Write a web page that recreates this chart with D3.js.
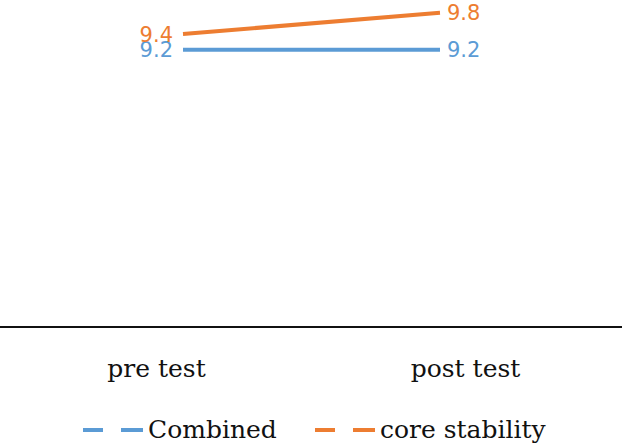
<!DOCTYPE html>
<html>
<head>
<meta charset="utf-8">
<script src="https://cdn.jsdelivr.net/npm/d3@7"></script>
<style>
  body { margin: 0; background: #fff; }
  svg { display: block; }
</style>
</head>
<body>
<div id="chart"></div>
<script>
// chart data
const categories = ["pre test", "post test"];
const seriesNames = ["Combined", "core stability"];
const combinedValues = [9.2, 9.2];
const coreValues = [9.44, 9.76];
const colors = ["#5b9bd5", "#ed7d31"];

const width = 622, height = 448;
const axisY = 327;

const svg = d3.select("#chart").append("svg")
    .attr("width", width)
    .attr("height", height);

// y scale: plot area extends a bit above the visible top
const yscale = d3.scaleLinear().domain([5, 10]).range([axisY, axisY - 5 * 66]);
// points for the lines
const xscale = d3.scalePoint().domain(categories).range([183, 440]);
// category label positions
const xband = d3.scaleBand().domain(categories).range([2, 620]);

// horizontal category axis line
svg.append("line")
    .attr("x1", 0).attr("x2", width)
    .attr("y1", axisY).attr("y2", axisY)
    .attr("stroke", "#111")
    .attr("stroke-width", 2);

const xaxis = d3.axisBottom(xband).tickSize(0).tickPadding(0);
const g_xaxis = svg.append("g")
    .attr("transform", `translate(0,${axisY})`)
    .call(xaxis);
g_xaxis.select(".domain").remove();
g_xaxis.selectAll("text")
    .attr("dy", null)
    .attr("y", 50)
    .attr("font-family", "DejaVu Serif, serif")
    .attr("font-size", 25)
    .attr("fill", "#111");

const series = [
  { name: seriesNames[0], values: combinedValues, color: colors[0] },
  { name: seriesNames[1], values: coreValues, color: colors[1] }
];

const line = d3.line()
    .x((d, i) => xscale(categories[i]))
    .y(d => yscale(d));

svg.selectAll("path.series")
    .data(series)
    .join("path")
    .attr("class", "series")
    .attr("d", d => line(d.values))
    .attr("fill", "none")
    .attr("stroke", d => d.color)
    .attr("stroke-width", 4);

// data labels: first point labelled on the left, last on the right
series.forEach(s => {
  svg.selectAll(null)
      .data(s.values)
      .join("text")
      .attr("x", (d, i) => xscale(categories[i]) + (i === 0 ? -10 : 7))
      .attr("y", d => yscale(d))
      .attr("dy", "0.36em")
      .attr("text-anchor", (d, i) => i === 0 ? "end" : "start")
      .attr("font-family", "DejaVu Sans, sans-serif")
      .attr("font-size", 21)
      .attr("fill", s.color)
      .text(d => d.toFixed(1));
});

// legend
const legendX = [83, 315];
const legend = svg.selectAll("g.legend")
    .data(series)
    .join("g")
    .attr("class", "legend")
    .attr("transform", (d, i) => `translate(${legendX[i]},430)`);

legend.selectAll("line")
    .data(d => [[0, 20, d.color], [38, 60, d.color]])
    .join("line")
    .attr("x1", d => d[0]).attr("x2", d => d[1])
    .attr("y1", 0).attr("y2", 0)
    .attr("stroke", d => d[2])
    .attr("stroke-width", 4);

legend.append("text")
    .attr("x", 65)
    .attr("y", 8)
    .attr("font-family", "DejaVu Serif, serif")
    .attr("font-size", 25)
    .attr("fill", "#111")
    .text(d => d.name);
</script>
</body>
</html>
